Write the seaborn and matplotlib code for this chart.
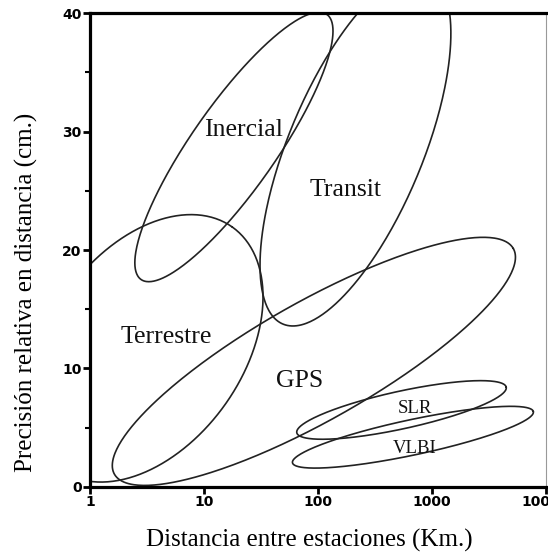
import numpy as np
import pandas as pd
import seaborn as sns
import matplotlib.pyplot as plt
from matplotlib.ticker import FixedLocator, NullLocator

# Regiones de cada técnica (elipses en el plano log10(km) vs cm)
tecnicas = ["Inercial", "Transit", "Terrestre", "GPS", "SLR", "VLBI"]
centro_km = [18.3, 213, 3.1, 92, 540, 680]
centro_cm = [28.7, 28.5, 11.7, 10.6, 6.5, 4.2]
semieje_mayor = [1.42, 1.66, 1.306, 2.01, 0.94, 1.08]   # en décadas
semieje_menor = [0.37, 0.59, 0.851, 0.52, 0.165, 0.155]
inclinacion = [55, 67.5, 54.6, 29.5, 12.3, 12]          # grados

# Posición de las etiquetas
etiqueta_km = [22.4, 176, 4.64, 69.5, 709, 709]
etiqueta_cm = [29.65, 24.56, 12.15, 8.44, 6.24, 2.87]
etiqueta_tam = [18.5, 18.5, 18.5, 18.5, 13.5, 13.5]

x_ticks = [1, 10, 100, 1000, 10000]
x_tick_labels = ["1", "10", "100", "1000", "10000"]
y_ticks = [0, 10, 20, 30, 40]
y_tick_labels = ["0", "10", "20", "30", "40"]
y_minor = [5, 15, 25, 35]

CM_POR_DECADA = 9.62  # una década en x mide lo mismo que 9.62 cm en y

sns.set_theme(style="white")
plt.rcParams['font.family'] = ['Liberation Serif', 'DejaVu Serif']

# construir el contorno de cada elipse
t = np.linspace(0, 2 * np.pi, 400)
frames = []
for i, nombre in enumerate(tecnicas):
    th = np.radians(inclinacion[i])
    a, b = semieje_mayor[i], semieje_menor[i]
    u = np.log10(centro_km[i]) + a * np.cos(t) * np.cos(th) - b * np.sin(t) * np.sin(th)
    v = centro_cm[i] / CM_POR_DECADA + a * np.cos(t) * np.sin(th) + b * np.sin(t) * np.cos(th)
    frames.append(pd.DataFrame({"km": 10 ** u, "cm": v * CM_POR_DECADA, "tecnica": nombre}))
df = pd.concat(frames, ignore_index=True)

fig, ax = plt.subplots(figsize=(5.48, 5.52), dpi=100)
fig.subplots_adjust(left=0.1642, right=0.9964, bottom=0.1178, top=0.9764)

sns.lineplot(data=df, x="km", y="cm", units="tecnica", estimator=None, sort=False,
             color="#222222", linewidth=1.2, ax=ax)

ax.set_xscale("log")
ax.set_xlim(1, 10000)
ax.set_ylim(0, 40)

for i, nombre in enumerate(tecnicas):
    ax.text(etiqueta_km[i], etiqueta_cm[i], nombre, ha="center", va="baseline",
            fontsize=etiqueta_tam[i], color="#111111")

# ejes y marcas
ax.xaxis.set_major_locator(FixedLocator(x_ticks))
ax.xaxis.set_minor_locator(NullLocator())
ax.set_xticklabels(x_tick_labels)
ax.yaxis.set_major_locator(FixedLocator(y_ticks))
ax.yaxis.set_minor_locator(FixedLocator(y_minor))
ax.set_yticklabels(y_tick_labels)
ax.tick_params(axis="both", which="major", bottom=True, left=True, direction="out",
               length=5, width=2, color="black", pad=1)
ax.tick_params(axis="y", which="minor", left=True, direction="out", length=3.5, width=1.5, color="black")
for lab in ax.get_xticklabels() + ax.get_yticklabels():
    lab.set_family(["Liberation Sans Narrow", "DejaVu Sans"])
    lab.set_fontweight("bold")
    lab.set_fontsize(10)
    lab.set_color("black")

for lado in ["left", "bottom", "top"]:
    ax.spines[lado].set_linewidth(2.3)
    ax.spines[lado].set_color("black")
ax.spines["right"].set_linewidth(0.8)
ax.spines["right"].set_color("#999999")

ax.set_xlabel("Distancia entre estaciones (Km.)", fontsize=18, color="black")
ax.set_ylabel("Precisión relativa en distancia (cm.)", fontsize=18, color="black")
ax.xaxis.set_label_coords(0.48, -0.088)
ax.yaxis.set_label_coords(-0.114, 0.41)

fig.savefig("out.png", dpi=100)
